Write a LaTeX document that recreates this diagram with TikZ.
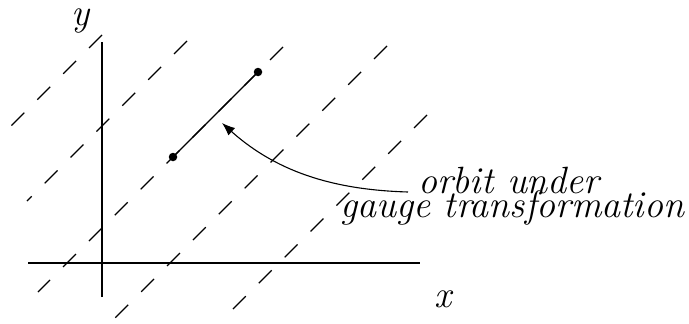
\documentclass[tikz,border=0pt]{standalone}
\usetikzlibrary{arrows.meta}
\begin{document}
\begin{tikzpicture}[x=1pt,y=-1pt,
  axis/.style={line width=1.3pt},
  gline/.style={line width=1.1pt, dash pattern=on 18.3pt off 18.3pt},
  orbitline/.style={line width=1.2pt},
  dot/.style={circle, fill=black, inner sep=0pt, minimum size=8.5pt},
  lbl/.style={inner sep=0pt, anchor=base west, text height=0.45em, text depth=0.2em, font=\fontsize{38}{40}\selectfont\itshape}]
\useasboundingbox (0,0) rectangle (689,324);
% axes
\coordinate (xl) at (28,263);
\coordinate (xr) at (420,263);
\coordinate (yb) at (102,297);
\coordinate (yt) at (102,42);
\draw[axis] (xl) -- (xr);
\draw[axis] (yb) -- (yt);
\node[lbl] (ylab) at (71,26) {y};
\node[lbl] (xlab) at (434,307) {x};
% dashed gauge lines (x+y = const)
\coordinate (a1) at (102,35);  \coordinate (a2) at (11,126);
\coordinate (b1) at (187,41);  \coordinate (b2) at (27,201);
\coordinate (c1) at (283,47);  \coordinate (c2) at (38,292);
\coordinate (d1) at (387,46);  \coordinate (d2) at (115,318);
\coordinate (e1) at (427,115); \coordinate (e2) at (233,309);
\draw[gline] (a1) -- (a2);
\draw[gline] (b1) -- (b2);
\draw[gline] (c1) -- (c2);
\draw[gline] (d1) -- (d2);
\draw[gline] (e1) -- (e2);
% orbit segment
\node[dot] (p) at (258,72) {};
\node[dot] (q) at (173,157) {};
\draw[orbitline] (p.center) -- (q.center);
% labels
\node[lbl] (orbit) at (418,193) {orbit under};
\node[lbl] (gauge) at (340,217) {gauge transformation};
% arrow
\coordinate (arrS) at (408,192);
\coordinate (tip) at (222,123);
\draw[line width=1.1pt, -{Latex[length=13pt,width=10pt]}] (arrS) .. controls (340,190) and (280,175) .. (tip);
\end{tikzpicture}
\end{document}
